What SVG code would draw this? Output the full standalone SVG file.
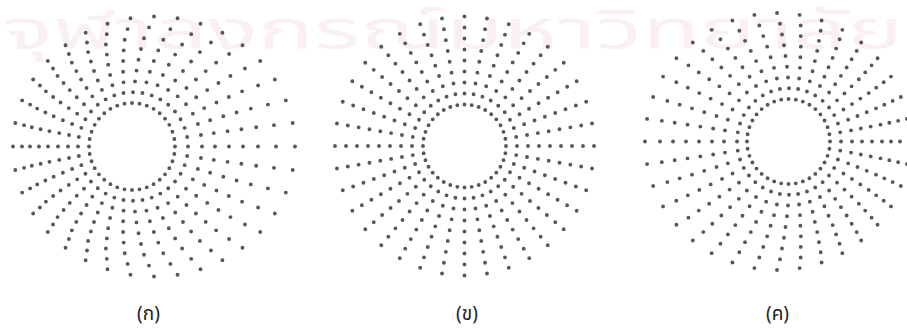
<svg xmlns="http://www.w3.org/2000/svg" width="907" height="329" viewBox="0 0 907 329">
<style>
.wm{font-family:"Noto Sans Thai","Noto Sans","DejaVu Sans",sans-serif;font-size:54px;fill:#faeff2}
.ring{fill:none;stroke:#454545;stroke-width:3.9;stroke-linecap:round;stroke-dasharray:0 1;stroke-opacity:0.9}
.lbl{font-family:"Noto Sans Thai","Noto Sans","DejaVu Sans",sans-serif;font-size:19px;fill:#222;text-anchor:middle}
</style>
<rect width="907" height="329" fill="#fff"/>
<text class="wm" x="3" y="48" textLength="900" lengthAdjust="spacingAndGlyphs">จุฬาลงกรณ์มหาวิทยาลัย</text>
<g id="pattern-a">
<ellipse class="ring" pathLength="36" cx="132" cy="146.5" rx="43" ry="43.5"/>
<ellipse class="ring" pathLength="36" cx="133" cy="146.5" rx="55" ry="54.3"/>
<ellipse class="ring" pathLength="36" cx="135" cy="146.5" rx="67" ry="65.1"/>
<ellipse class="ring" pathLength="36" cx="136.5" cy="146.5" rx="78.5" ry="75.9"/>
<ellipse class="ring" pathLength="36" cx="138.5" cy="146.5" rx="90.5" ry="86.7"/>
<ellipse class="ring" pathLength="36" cx="141" cy="146.5" rx="102" ry="97.5"/>
<ellipse class="ring" pathLength="36" cx="144" cy="146.5" rx="114" ry="108.3"/>
<ellipse class="ring" pathLength="36" cx="149" cy="146.5" rx="127" ry="119.1"/>
<ellipse class="ring" pathLength="36" cx="154" cy="146.5" rx="141" ry="130"/>
</g>
<g id="pattern-b">
<circle class="ring" pathLength="36" cx="464.5" cy="146" r="41.5"/>
<circle class="ring" pathLength="36" cx="464.5" cy="146" r="52.5"/>
<circle class="ring" pathLength="36" cx="464.5" cy="146" r="63.5"/>
<circle class="ring" pathLength="36" cx="464.5" cy="146" r="74.5"/>
<circle class="ring" pathLength="36" cx="464.5" cy="146" r="85.5"/>
<circle class="ring" pathLength="36" cx="464.5" cy="146" r="96.5"/>
<circle class="ring" pathLength="36" cx="464.5" cy="146" r="107.5"/>
<circle class="ring" pathLength="36" cx="464.5" cy="146" r="118.5"/>
<circle class="ring" pathLength="36" cx="464.5" cy="146" r="129.5"/>
</g>
<g id="pattern-c">
<ellipse class="ring" pathLength="36" cx="788.5" cy="141.5" rx="41.5" ry="42.5"/>
<ellipse class="ring" pathLength="36" cx="789" cy="141.5" rx="52" ry="53.3"/>
<ellipse class="ring" pathLength="36" cx="788" cy="141.5" rx="64" ry="64"/>
<ellipse class="ring" pathLength="36" cx="787" cy="141.5" rx="75" ry="74.8"/>
<ellipse class="ring" pathLength="36" cx="785.5" cy="141.5" rx="86.5" ry="85.5"/>
<ellipse class="ring" pathLength="36" cx="784" cy="141.5" rx="98" ry="96.3"/>
<ellipse class="ring" pathLength="36" cx="782" cy="141.5" rx="109" ry="107"/>
<ellipse class="ring" pathLength="36" cx="780" cy="141.5" rx="120" ry="117.8"/>
<ellipse class="ring" pathLength="36" cx="777" cy="141.5" rx="132" ry="128.5"/>
</g>
<g id="labels">
<text class="lbl" x="148.5" y="320">(ก)</text>
<text class="lbl" x="467" y="320">(ข)</text>
<text class="lbl" x="777.5" y="320">(ค)</text>
</g>
</svg>
